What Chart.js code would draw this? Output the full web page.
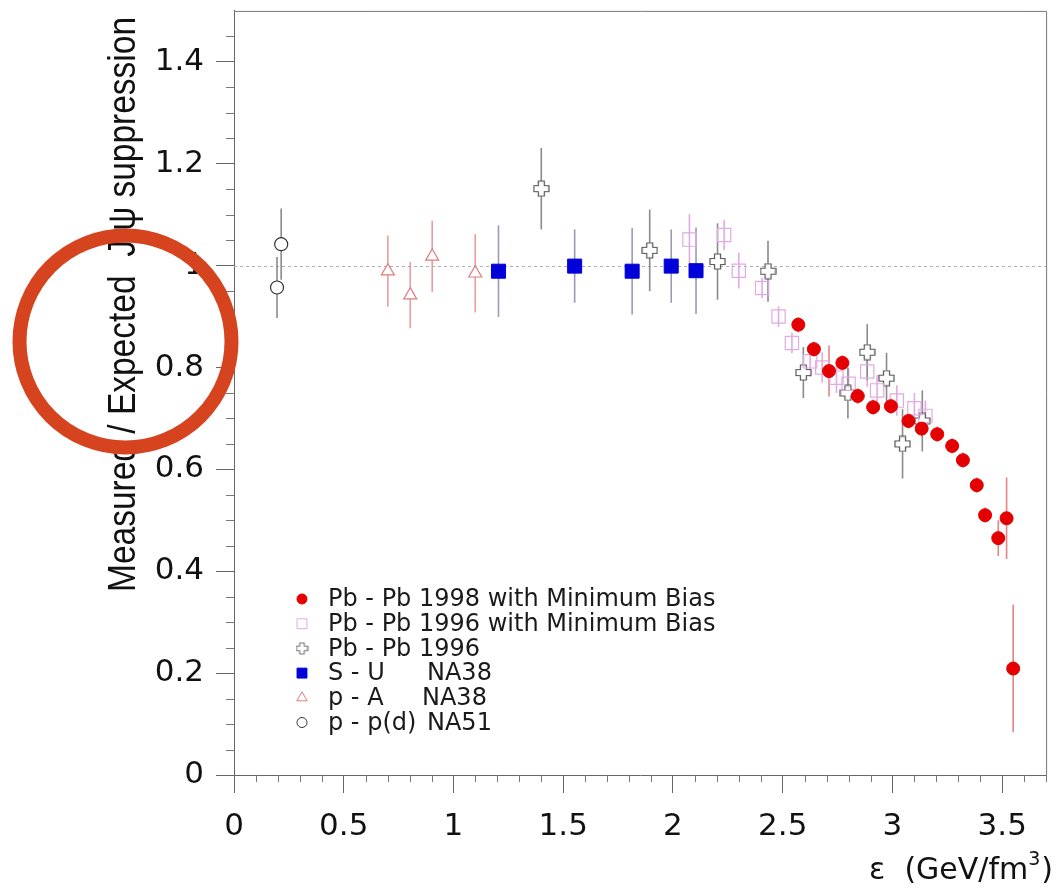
<!DOCTYPE html>
<html>
<head>
<meta charset="utf-8">
<script src="https://cdn.jsdelivr.net/npm/chart.js@4.4.1/dist/chart.umd.min.js"></script>
<style>
  html, body { margin: 0; padding: 0; background: #fff; }
  canvas { display: block; }
</style>
</head>
<body>
<canvas id="c" width="1057" height="893"></canvas>
<script>
// Energy density ε (GeV/fm^3), measured/expected J/ψ ratio and its error, one set per experiment
const pbpb98X   = [2.571, 2.642, 2.711, 2.772, 2.842, 2.912, 2.993, 3.073, 3.133, 3.204, 3.272, 3.321, 3.384, 3.422, 3.482, 3.520, 3.550];
const pbpb98Y   = [0.884, 0.836, 0.793, 0.809, 0.744, 0.722, 0.724, 0.695, 0.680, 0.669, 0.646, 0.618, 0.569, 0.510, 0.465, 0.504, 0.209];
const pbpb98Err = [0.015, 0.015, 0.050, 0.015, 0.015, 0.015, 0.015, 0.015, 0.015, 0.015, 0.015, 0.015, 0.015, 0.015, 0.035, 0.080, 0.125];

const pbpb96mbX   = [2.075, 2.233, 2.300, 2.406, 2.481, 2.542, 2.625, 2.680, 2.745, 2.800, 2.885, 2.930, 3.020, 3.100, 3.150];
const pbpb96mbY   = [1.051, 1.060, 0.990, 0.956, 0.900, 0.848, 0.812, 0.800, 0.780, 0.768, 0.792, 0.755, 0.735, 0.720, 0.705];
const pbpb96mbErr = [0.050, 0.030, 0.035, 0.020, 0.020, 0.020, 0.030, 0.030, 0.030, 0.030, 0.030, 0.030, 0.030, 0.030, 0.030];

const pbpb96X   = [1.400, 1.894, 2.203, 2.433, 2.594, 2.797, 2.885, 2.973, 3.046, 3.136];
const pbpb96Y   = [1.151, 1.030, 1.008, 0.989, 0.790, 0.750, 0.830, 0.779, 0.650, 0.695];
const pbpb96Err = [0.080, 0.080, 0.075, 0.060, 0.050, 0.050, 0.055, 0.050, 0.068, 0.060];

const suX   = [1.205, 1.552, 1.814, 1.992, 2.105];
const suY   = [0.989, 0.999, 0.989, 0.999, 0.990];
const suErr = [0.090, 0.072, 0.085, 0.072, 0.085];

const paX   = [0.701, 0.803, 0.903, 1.099];
const paY   = [0.989, 0.942, 1.018, 0.985];
const paErr = [0.070, 0.065, 0.070, 0.077];

const ppX   = [0.196, 0.215];
const ppY   = [0.957, 1.042];
const ppErr = [0.060, 0.070];

const seriesLabels = [
  'Pb - Pb 1998 with Minimum Bias',
  'Pb - Pb 1996 with Minimum Bias',
  'Pb - Pb 1996',
  'S - U     NA38',
  'p - A      NA38',
  'p - p(d)  NA51'
];

const xTicks = [0, 0.5, 1, 1.5, 2, 2.5, 3, 3.5];
const yTicks = [0, 0.2, 0.4, 0.6, 0.8, 1, 1.2, 1.4];
const xRange = [0, 3.7];
const yRange = [0, 1.5];
const unityLevel = 1;

const yTitle = 'Measured / Expected  J/\u03C8 suppression';
const xTitleMain = '\u03B5  (GeV/fm';
const xTitleSup = '3';
const xTitleEnd = ')';

// Outlined "plus" marker used for the Pb-Pb 1996 points
function makeCross(size, arm, stroke, lw) {
  const c = document.createElement('canvas');
  c.width = size; c.height = size;
  const g = c.getContext('2d');
  const m = size / 2, h = arm / 2, L = size / 2 - 1;
  g.beginPath();
  g.moveTo(m - h, m - L); g.lineTo(m + h, m - L); g.lineTo(m + h, m - h);
  g.lineTo(m + L, m - h); g.lineTo(m + L, m + h); g.lineTo(m + h, m + h);
  g.lineTo(m + h, m + L); g.lineTo(m - h, m + L); g.lineTo(m - h, m + h);
  g.lineTo(m - L, m + h); g.lineTo(m - L, m - h); g.lineTo(m - h, m - h);
  g.closePath();
  g.fillStyle = '#fff'; g.fill();
  g.strokeStyle = stroke; g.lineWidth = lw; g.stroke();
  return c;
}
const crossMark = makeCross(17, 6, '#555', 1.2);
const crossLegend = makeCross(13, 4.5, '#777', 1.1);

const zip = (xs, ys) => xs.map((x, i) => ({ x: x, y: ys[i] }));

const datasets = [
  { label: seriesLabels[0], data: zip(pbpb98X, pbpb98Y), err: pbpb98Err, errColor: 'rgba(225,110,110,0.85)',
    pointStyle: 'circle', pointRadius: 6.5, backgroundColor: '#e40000', borderColor: '#e40000', borderWidth: 1,
    legendStyle: 'circle', legendRadius: 5, legendFill: '#e40000' },
  { label: seriesLabels[1], data: zip(pbpb96mbX, pbpb96mbY), err: pbpb96mbErr, errColor: 'rgba(225,160,225,0.9)',
    pointStyle: 'rect', pointRadius: 9.4, backgroundColor: 'rgba(255,255,255,0)', borderColor: '#e2aae2', borderWidth: 1.2,
    legendStyle: 'rect', legendRadius: 7, legendFill: '#fff' },
  { label: seriesLabels[2], data: zip(pbpb96X, pbpb96Y), err: pbpb96Err, errColor: '#8a8a8a',
    pointStyle: crossMark, pointRadius: 8, backgroundColor: '#fff', borderColor: '#555', borderWidth: 1,
    legendStyle: crossLegend, legendRadius: 6, legendFill: '#fff' },
  { label: seriesLabels[3], data: zip(suX, suY), err: suErr, errColor: '#9a9ab4',
    pointStyle: 'rect', pointRadius: 9.9, backgroundColor: '#0000d8', borderColor: '#0000d8', borderWidth: 1,
    legendStyle: 'rect', legendRadius: 7, legendFill: '#0000d8' },
  { label: seriesLabels[4], data: zip(paX, paY), err: paErr, errColor: 'rgba(230,140,140,0.85)',
    pointStyle: 'triangle', pointRadius: 7.5, backgroundColor: '#fff', borderColor: '#e07c7c', borderWidth: 1.2,
    legendStyle: 'triangle', legendRadius: 6, legendFill: '#fff' },
  { label: seriesLabels[5], data: zip(ppX, ppY), err: ppErr, errColor: '#8a8a8a',
    pointStyle: 'circle', pointRadius: 6.5, backgroundColor: '#fff', borderColor: '#333', borderWidth: 1.2,
    legendStyle: 'circle', legendRadius: 5, legendFill: '#fff' }
];

const decor = {
  id: 'decor',
  beforeDraw(chart) {
    const ctx = chart.ctx;
    ctx.save();
    ctx.fillStyle = '#fff';
    ctx.fillRect(0, 0, chart.width, chart.height);
    ctx.restore();
  },
  beforeDatasetsDraw(chart) {
    const ctx = chart.ctx, xs = chart.scales.x, ys = chart.scales.y, a = chart.chartArea;
    ctx.save();
    // dotted unity line
    const yu = Math.round(ys.getPixelForValue(unityLevel)) + 0.5;
    ctx.strokeStyle = '#b0b0b0';
    ctx.lineWidth = 1;
    ctx.setLineDash([3, 3]);
    ctx.beginPath(); ctx.moveTo(a.left, yu); ctx.lineTo(a.right, yu); ctx.stroke();
    ctx.setLineDash([]);
    // vertical error bars
    chart.data.datasets.forEach(ds => {
      ctx.strokeStyle = ds.errColor;
      ctx.lineWidth = 1.6;
      ds.data.forEach((p, i) => {
        const px = xs.getPixelForValue(p.x);
        ctx.beginPath();
        ctx.moveTo(px, ys.getPixelForValue(p.y - ds.err[i]));
        ctx.lineTo(px, ys.getPixelForValue(p.y + ds.err[i]));
        ctx.stroke();
      });
    });
    ctx.restore();
  },
  afterDraw(chart) {
    const ctx = chart.ctx, xs = chart.scales.x, ys = chart.scales.y, a = chart.chartArea;
    ctx.save();
    // top and right frame
    ctx.strokeStyle = '#777';
    ctx.lineWidth = 1;
    ctx.beginPath();
    ctx.moveTo(a.left, a.top + 0.5); ctx.lineTo(a.right + 0.5, a.top + 0.5); ctx.lineTo(a.right + 0.5, a.bottom);
    ctx.stroke();
    // minor ticks
    ctx.beginPath();
    for (let i = 1; i < 30; i++) {
      if (i % 4 === 0) continue;
      const py = Math.round(ys.getPixelForValue(i * 0.05)) + 0.5;
      ctx.moveTo(a.left - 8, py); ctx.lineTo(a.left, py);
    }
    for (let i = 1; i <= 37; i++) {
      if (i % 5 === 0) continue;
      const px = Math.round(xs.getPixelForValue(i * 0.1)) + 0.5;
      if (px > a.right + 1) continue;
      ctx.moveTo(px, a.bottom); ctx.lineTo(px, a.bottom + 7);
    }
    ctx.stroke();

    // legend
    const lx = 302, ly0 = 599, dy = 24.7, tx = 328, col2 = 427;
    ctx.font = '24px "DejaVu Sans"';
    ctx.textBaseline = 'middle';
    ctx.textAlign = 'left';
    chart.data.datasets.forEach((ds, i) => {
      const y = ly0 + i * dy;
      ctx.fillStyle = ds.legendFill;
      ctx.strokeStyle = ds.borderColor;
      ctx.lineWidth = 1;
      Chart.helpers.drawPoint(ctx, { pointStyle: ds.legendStyle, radius: ds.legendRadius, borderWidth: 1, rotation: 0 }, lx, y);
      ctx.fillStyle = '#1a1a1a';
      const parts = ds.label.split(/\s{2,}/);
      ctx.fillText(parts[0], tx, y + 1);
      if (parts[1]) ctx.fillText(parts[1], col2 - (i === 4 ? 5 : 0), y + 1);
    });

    // y-axis title (rotated)
    ctx.fillStyle = '#111';
    ctx.save();
    ctx.translate(135, 592);
    ctx.rotate(-Math.PI / 2);
    ctx.scale(1, 1.17);
    ctx.font = '33.5px "Liberation Sans"';
    ctx.textBaseline = 'alphabetic';
    ctx.textAlign = 'left';
    ctx.fillText(yTitle, 0, 0);
    ctx.restore();

    // x-axis title, right-aligned to the frame
    ctx.font = '30px "DejaVu Sans"';
    ctx.textBaseline = 'alphabetic';
    ctx.textAlign = 'left';
    const supFont = '19px "DejaVu Sans"';
    const wEnd = ctx.measureText(xTitleEnd).width;
    const wMain = ctx.measureText(xTitleMain).width;
    ctx.font = supFont;
    const wSup = ctx.measureText(xTitleSup).width;
    const right = 1053, base = 879;
    const xEnd = right - wEnd, xSup = xEnd - wSup - 1, xMain = xSup - wMain;
    ctx.font = '30px "DejaVu Sans"';
    ctx.fillText(xTitleMain, xMain, base);
    ctx.fillText(xTitleEnd, xEnd, base);
    ctx.font = supFont;
    ctx.fillText(xTitleSup, xSup, base - 14);

    // highlight ring
    ctx.strokeStyle = '#d5431f';
    ctx.lineWidth = 14;
    ctx.beginPath();
    ctx.arc(125.5, 341.5, 106, 0, Math.PI * 2);
    ctx.stroke();
    ctx.restore();
  }
};

const tickFont = { family: 'DejaVu Sans', size: 31 };

new Chart(document.getElementById('c'), {
  type: 'scatter',
  data: { datasets: datasets },
  options: {
    responsive: false,
    devicePixelRatio: 1,
    animation: false,
    layout: { padding: { top: 9, right: 0, left: 0, bottom: 0 } },
    plugins: { legend: { display: false }, tooltip: { enabled: false } },
    scales: {
      x: {
        type: 'linear', min: xRange[0], max: xRange[1],
        afterFit: s => { s.height = 118; s.paddingLeft = 0; s.paddingRight = 0; },
        afterBuildTicks: s => { s.ticks = xTicks.map(v => ({ value: v })); },
        ticks: { font: tickFont, color: '#111', padding: 15, maxRotation: 0, autoSkip: false, callback: v => String(v) },
        grid: { drawOnChartArea: false, drawTicks: true, tickLength: 18, tickColor: '#666', color: '#666' },
        border: { display: true, color: '#666', width: 1 }
      },
      y: {
        type: 'linear', min: yRange[0], max: yRange[1],
        afterFit: s => { s.width = 234; s.paddingTop = 0; s.paddingBottom = 0; },
        afterBuildTicks: s => { s.ticks = yTicks.map(v => ({ value: v })); },
        ticks: { font: tickFont, color: '#111', padding: 12, autoSkip: false, callback: v => String(v) },
        grid: { drawOnChartArea: false, drawTicks: true, tickLength: 18, tickColor: '#666', color: '#666' },
        border: { display: true, color: '#666', width: 1 }
      }
    }
  },
  plugins: [decor]
});
</script>
</body>
</html>
